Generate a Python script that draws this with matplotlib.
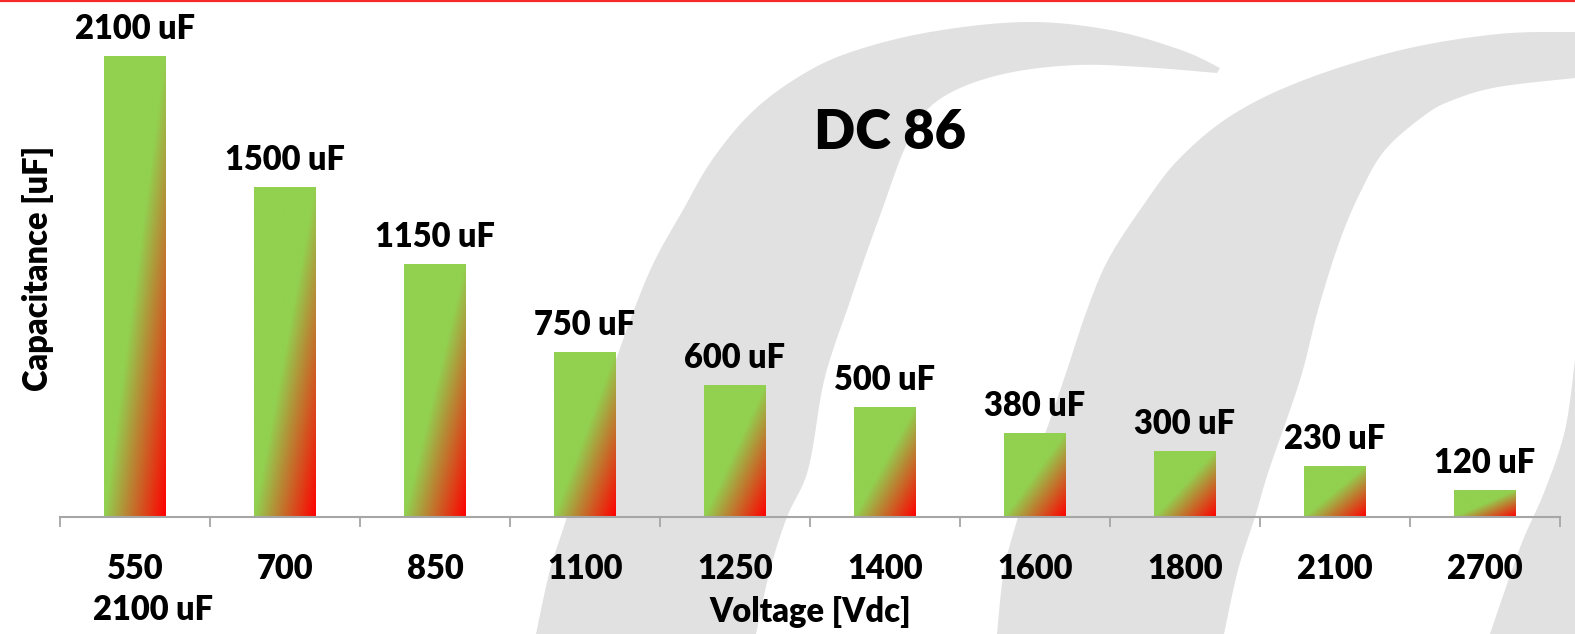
import numpy as np
import matplotlib.pyplot as plt
from matplotlib.patches import Polygon
from matplotlib.lines import Line2D
from matplotlib.transforms import blended_transform_factory

# ---------------- data ----------------
voltages = ['550', '700', '850', '1100', '1250', '1400', '1600', '1800', '2100', '2700']
capacitance = [2100, 1500, 1150, 750, 600, 500, 380, 300, 230, 120]
first_note = '2100 uF'

plt.rcParams['font.family'] = ['Lato', 'DejaVu Sans']
plt.rcParams['font.weight'] = 'heavy'
WT = 'heavy'
FS = 23.5

W, H = 1575, 634
fig = plt.figure(figsize=(W / 100, H / 100), dpi=100, facecolor='white')
ax = fig.add_axes([60 / W, 1 - 517 / H, 1500 / W, 497 / H])
ax.patch.set_visible(False)


def px(points):
    # pixel coords (top-left origin) -> figure fraction
    return [(x / W, 1 - y / H) for x, y in points]


def smooth(points, n=10):
    # catmull-rom through the outline points, so the swoosh is curved
    p = np.array(points, dtype=float)
    p = np.vstack([p[0], p, p[-1]])
    out = []
    for i in range(1, len(p) - 2):
        p0, p1, p2, p3 = p[i - 1], p[i], p[i + 1], p[i + 2]
        for tt in np.linspace(0, 1, n, endpoint=False):
            t2, t3 = tt * tt, tt * tt * tt
            out.append(0.5 * (2 * p1 + (-p0 + p2) * tt
                              + (2 * p0 - 5 * p1 + 4 * p2 - p3) * t2
                              + (-p0 + 3 * p1 - 3 * p2 + p3) * t3))
    out.append(p[-2])
    return [tuple(q) for q in out]


# grey swoosh watermark in the background (outer edge, then inner edge)
sw1_outer = [(536, 634), (550, 570), (567, 517), (590, 440), (609, 380), (634, 310),
             (655, 260), (683, 210), (712, 160), (752, 112), (800, 76), (851, 52),
             (930, 32), (1026, 22), (1110, 30), (1181, 50), (1220, 68)]
sw1_inner = [(1217, 73), (1142, 67), (1078, 65), (1013, 72), (960, 88), (925, 112),
             (904, 150), (882, 210), (864, 260), (847, 310), (833, 350), (822, 390),
             (808, 470), (787, 517), (770, 570), (756, 634)]
sw2_outer = [(997, 634), (1004, 570), (1018, 517), (1032, 470), (1050, 420), (1067, 370),
             (1087, 310), (1108, 260), (1140, 210), (1178, 160), (1232, 115), (1304, 80),
             (1401, 50), (1498, 34), (1575, 32)]
sw2_inner = [(1575, 78), (1498, 87), (1453, 100), (1425, 115), (1385, 150), (1360, 193),
             (1339, 243), (1318, 310), (1300, 380), (1269, 470), (1255, 517),
             (1238, 570), (1224, 634)]
sw3_edge = [(1575, 360), (1565, 430), (1545, 490), (1523, 540), (1505, 590), (1490, 634)]

shapes = [smooth(sw1_outer) + smooth(sw1_inner),
          smooth(sw2_outer) + smooth(sw2_inner),
          smooth(sw3_edge) + [(1575, 634)]]
for pts in shapes:
    fig.add_artist(Polygon(px(pts), closed=True, transform=fig.transFigure,
                           facecolor='#E1E1E1', edgecolor='none', zorder=-5))

# red line on top
fig.add_artist(Line2D([0, 1], [1 - 1 / H, 1 - 1 / H], transform=fig.transFigure,
                      color='#F42A2A', lw=1.6))

# ---------------- bars with diagonal gradient ----------------
x = np.arange(len(voltages))
bars = ax.bar(x, capacitance, width=0.41, color='none', edgecolor='none', zorder=2)

green = np.array([146, 208, 80]) / 255
red = np.array([255, 0, 0]) / 255
u = np.linspace(0, 1, 60)
v = np.linspace(0, 1, 300)
t = (u[None, :] + (1 - v[:, None])) / 2
s = np.clip((t - 0.5) / 0.5, 0, 1)[..., None]
grad = green * (1 - s) + red * s

for b in bars:
    x0, w, h = b.get_x(), b.get_width(), b.get_height()
    ax.imshow(grad, extent=[x0, x0 + w, 0, h], origin='lower', aspect='auto',
              interpolation='bilinear', zorder=2)

for xi, val in zip(x, capacitance):
    ax.annotate(f'{val} uF', xy=(xi, val), xytext=(0, 12.5), textcoords='offset points',
                ha='center', va='baseline', fontsize=FS, fontweight=WT)

ax.set_xlim(-0.5, len(voltages) - 0.5)
ax.set_ylim(0, 2100 * 497 / 461)

# axes styling
for side in ('left', 'right', 'top'):
    ax.spines[side].set_visible(False)
ax.spines['bottom'].set_color('#A6A6A6')
ax.spines['bottom'].set_linewidth(1.5)
ax.set_yticks([])
ax.set_xticks(x)
ax.set_xticklabels(voltages, fontsize=FS, fontweight=WT)
ax.set_xticks(np.arange(len(voltages) + 1) - 0.5, minor=True)
ax.tick_params(axis='x', which='major', length=0, pad=26)
ax.tick_params(axis='x', which='minor', length=7.5, width=1.3, color='#A6A6A6')

trans = blended_transform_factory(ax.transData, ax.transAxes)
ax.text(0.12, -103 / 497, first_note, transform=trans, ha='center', va='baseline',
        fontsize=FS, fontweight=WT)

ax.set_xlabel('Voltage [Vdc]', fontsize=FS, fontweight=WT)
ax.xaxis.set_label_coords(0.5, -79 / 497)
ax.set_ylabel('Capacitance [uF]', fontsize=FS, fontweight=WT)
ax.yaxis.set_label_coords(-6 / 1500, 0.5)

ax.text(0.553, 0.773, 'DC 86', transform=ax.transAxes, ha='center', va='center',
        fontsize=39, fontweight=WT)

fig.savefig('out.png', dpi=100)
